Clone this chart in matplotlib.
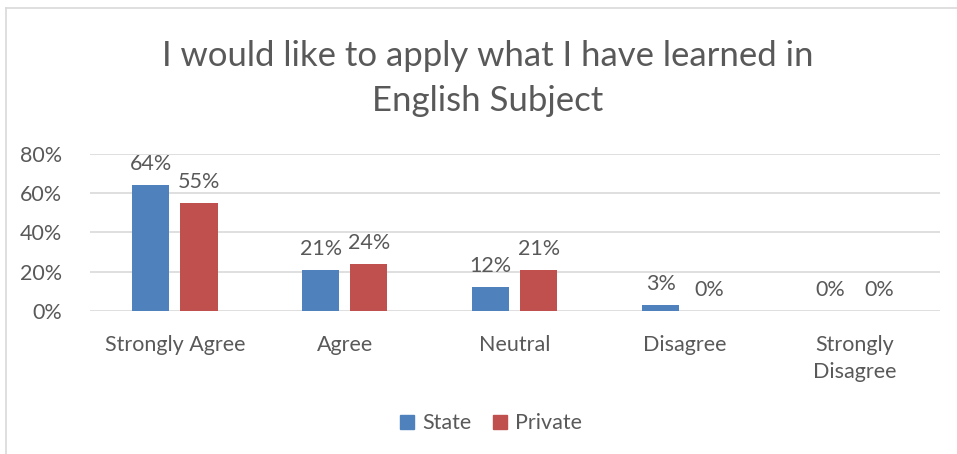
import matplotlib
matplotlib.use("Agg")
import matplotlib.pyplot as plt
import numpy as np
from matplotlib.lines import Line2D
from matplotlib.ticker import FuncFormatter

categories = ["Strongly Agree", "Agree", "Neutral", "Disagree", "Strongly\nDisagree"]
state = [0.64, 0.21, 0.12, 0.03, 0.00]
private = [0.55, 0.24, 0.21, 0.00, 0.00]
series_names = ["State", "Private"]
yticks = [0.0, 0.2, 0.4, 0.6, 0.8]
title = "I would like to apply what I have learned in\nEnglish Subject"

plt.rcParams["font.family"] = ["Lato", "DejaVu Sans"]
text_color = "#595959"
blue = "#4F81BD"
red = "#C0504D"
fs = 15.5

fig = plt.figure(figsize=(9.57, 4.54), dpi=100)
ax = fig.add_axes([0.094, 0.315, 0.888, 0.346])

x = np.arange(len(categories))
w = 0.218
off = (w + 0.065) / 2
b1 = ax.bar(x - off, state, w, color=blue, label=series_names[0], zorder=3)
b2 = ax.bar(x + off, private, w, color=red, label=series_names[1], zorder=3)

for bars, vals in ((b1, state), (b2, private)):
    for rect, v in zip(bars, vals):
        ax.annotate(f"{v*100:.0f}%", (rect.get_x() + rect.get_width() / 2, v),
                    xytext=(0, 8), textcoords="offset points",
                    ha="center", va="bottom", fontsize=fs, color=text_color)

ax.set_xlim(-0.5, len(categories) - 0.5)
ax.set_ylim(0, 0.8)
ax.set_yticks(yticks)
ax.yaxis.set_major_formatter(FuncFormatter(lambda v, p: f"{v*100:.0f}%"))
ax.set_xticks(x)
ax.set_xticklabels(categories, fontsize=fs, color=text_color, linespacing=1.45)
ax.tick_params(axis="y", labelsize=fs, labelcolor=text_color, length=0, pad=20)
ax.tick_params(axis="x", length=0, pad=17)
ax.grid(axis="y", color="#D9D9D9", linewidth=1.2, zorder=0)
for s in ax.spines.values():
    s.set_visible(False)

fig.text(0.51, 0.826, title, ha="center", va="center", fontsize=25,
         color=text_color, linespacing=1.5)

handles = [Line2D([], [], marker="s", linestyle="none", markersize=10.5,
                  markerfacecolor=c, markeredgecolor=c) for c in (blue, red)]
fig.legend(handles, series_names, loc="center", bbox_to_anchor=(0.513, 0.068),
           ncol=2, frameon=False, fontsize=fs, handlelength=0.7,
           handletextpad=0.35, columnspacing=1.0, labelcolor=text_color)

# outer chart frame (top and left edges)
fig.add_artist(Line2D([0.006, 1.0], [0.982, 0.982], color="#D9D9D9", linewidth=1.2))
fig.add_artist(Line2D([0.006, 0.006], [0.0, 0.982], color="#D9D9D9", linewidth=1.2))

fig.savefig("out.png", dpi=100)
